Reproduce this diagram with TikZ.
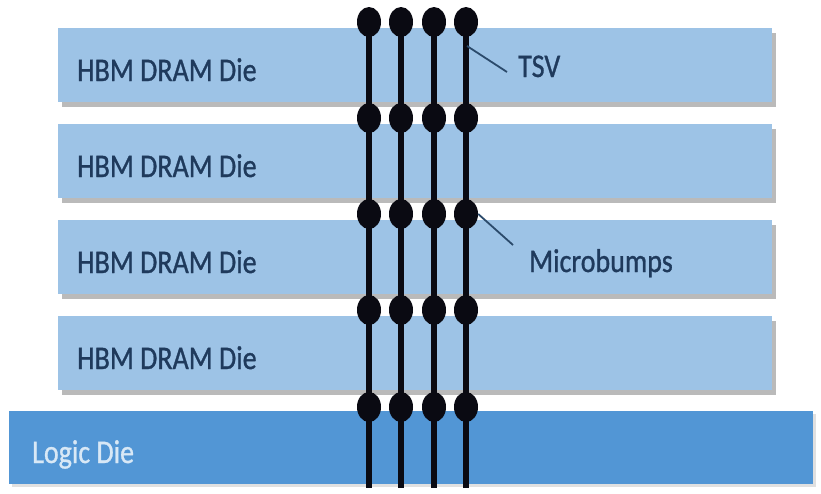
\documentclass[tikz,border=0pt]{standalone}
\usepackage{fontspec}
\setmainfont{Carlito}
\newfontfamily\labelfont{Carlito}[FakeBold=1.0]
\newcommand\stretchtxt[1]{\scalebox{1}[1.18]{#1}}
\usetikzlibrary{shapes.geometric,shadows}
\definecolor{dieblue}{HTML}{9DC3E6}
\definecolor{logicblue}{HTML}{5296D5}
\definecolor{navy}{HTML}{1F3A5C}
\definecolor{leadercol}{HTML}{2B4A6B}
\definecolor{logictext}{HTML}{D8E8F6}
\definecolor{bumpcol}{HTML}{0A0A12}
\begin{document}
\begin{tikzpicture}[x=1pt,y=-1pt,
  dram/.style={rectangle, fill=dieblue, minimum width=714pt, minimum height=74pt,
    anchor=north west, inner sep=0pt,
    drop shadow={shadow xshift=4pt, shadow yshift=-5pt, fill=black!45, opacity=0.6}},
  logic/.style={rectangle, fill=logicblue, minimum width=804pt, minimum height=73pt,
    anchor=north west, inner sep=0pt,
    drop shadow={shadow xshift=3pt, shadow yshift=-3pt, fill=black!30, opacity=0.4}},
  dlabel/.style={anchor=base west, inner sep=0pt, text=navy, font=\labelfont\fontsize{28}{34}\selectfont},
  llabel/.style={anchor=base west, inner sep=0pt, text=logictext, font=\labelfont\fontsize{28}{34}\selectfont},
  bump/.style={ellipse, fill=bumpcol, minimum width=24pt, minimum height=30pt, inner sep=0pt},
  tsvline/.style={draw=bumpcol, line width=6.5pt},
  leader/.style={draw=leadercol, line width=1.8pt}]
\useasboundingbox[fill=white] (0,0) rectangle (821,493);
% dies
\node[dram] (d1) at (58,28) {};
\node[dram] (d2) at (58,124) {};
\node[dram] (d3) at (58,220) {};
\node[dram] (d4) at (58,316) {};
\node[logic] (ld) at (9,411) {};
% die labels
\node[dlabel] (t1) at (77,81) {\stretchtxt{HBM DRAM Die}};
\node[dlabel] (t2) at (77,177) {\stretchtxt{HBM DRAM Die}};
\node[dlabel] (t3) at (77,273) {\stretchtxt{HBM DRAM Die}};
\node[dlabel] (t4) at (77,369) {\stretchtxt{HBM DRAM Die}};
\node[llabel] (tl) at (32,463) {\stretchtxt{Logic Die}};
% TSVs and microbumps
\foreach \x [count=\c] in {369,401,434,466} {
  \coordinate (bot\c) at (\x,488);
  \foreach \y [count=\r] in {22,118,214,310,407} {
    \node[bump] (b\c\r) at (\x,\y) {};
  }
  \draw[tsvline] (b\c1.center) -- (bot\c);
}
% callouts
\node[dlabel] (tsvlab) at (518,77) {\stretchtxt{TSV}};
\node[dlabel] (mblab) at (529,272) {\stretchtxt{Microbumps}};
\coordinate (tsvpt) at (467,46);
\coordinate (tsvend) at (507,72);
\coordinate (mbend) at (513,245);
\draw[leader] (tsvpt) -- (tsvend);
\draw[leader] (b43.east) -- (mbend);
\end{tikzpicture}
\end{document}
